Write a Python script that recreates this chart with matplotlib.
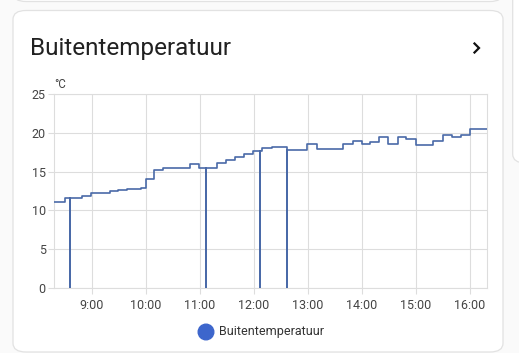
import matplotlib
matplotlib.use("Agg")
import matplotlib.pyplot as plt
import matplotlib.dates as mdates
from matplotlib.patches import FancyBboxPatch, Circle
from matplotlib.lines import Line2D
import pandas as pd

plt.rcParams['font.family'] = ['Roboto', 'DejaVu Sans']

title = "Buitentemperatuur"
series_name = "Buitentemperatuur"
unit = "°C"

times = ["08:18:00", "08:30:00", "08:36:00", "08:36:05", "08:49:00", "08:59:00",
         "09:20:00", "09:29:00", "09:39:00", "09:49:00", "09:55:00", "10:00:00",
         "10:09:00", "10:19:00", "10:49:00", "10:59:00", "11:07:00", "11:07:05",
         "11:19:00", "11:29:00", "11:39:00", "11:49:00", "11:59:00", "12:07:00",
         "12:07:05", "12:09:00", "12:20:00", "12:37:00", "12:37:05", "12:59:00",
         "13:10:00", "13:39:00", "13:50:00", "14:00:00", "14:09:00", "14:19:00",
         "14:29:00", "14:40:00", "14:49:00", "15:00:00", "15:19:00", "15:30:00",
         "15:40:00", "15:50:00", "16:00:00", "16:19:00"]
temps = [11.1, 11.6, 0.0, 11.6, 11.9, 12.3,
         12.5, 12.6, 12.7, 12.8, 12.9, 14.0,
         15.2, 15.5, 16.0, 15.5, 0.0, 15.5,
         16.1, 16.5, 16.9, 17.3, 17.7, 0.0,
         17.7, 18.0, 18.2, 0.0, 17.8, 18.5,
         17.9, 18.6, 19.0, 18.5, 18.85, 19.4,
         18.6, 19.4, 19.2, 18.4, 19.0, 19.7,
         19.4, 19.7, 20.5, 20.5]
y_ticks = [0, 5, 10, 15, 20, 25]
x_ticks = ["09:00", "10:00", "11:00", "12:00", "13:00", "14:00", "15:00", "16:00"]

day = "2024-01-01 "
t = pd.to_datetime([day + s for s in times])
xt = pd.to_datetime([day + s for s in x_ticks])

W, H = 519, 353
fig = plt.figure(figsize=(W / 100, H / 100), dpi=100)
fig.patch.set_facecolor("#fafafa")

def card(x0, y0, x1, y1):
    p = FancyBboxPatch((x0 / W, 1 - y1 / H), (x1 - x0) / W, (y1 - y0) / H,
                       boxstyle="round,pad=0,rounding_size=0.025",
                       transform=fig.transFigure, facecolor="white",
                       edgecolor="#e2e2e2", linewidth=0.9, zorder=-5)
    fig.patches.append(p)

card(13, 10.5, 503, 352)
card(13, -20, 503, 1.5)
card(512.7, -20, 550, 163)

# title
fig.text(30 / W, 1 - 55 / H, title, fontsize=17.5, color="#212121",
         ha="left", va="baseline")
# chevron
cx, cy = 477, 48
fig.add_artist(Line2D([(cx - 2.5) / W, (cx + 2) / W, (cx - 2.5) / W],
                      [1 - (cy - 4.5) / H, 1 - cy / H, 1 - (cy + 4.5) / H],
                      transform=fig.transFigure, color="#111111", lw=1.6,
                      solid_joinstyle="miter"))

ax = fig.add_axes([54 / W, 1 - 288 / H, (487 - 54) / W, (288 - 94) / H])
ax.set_facecolor("white")
ax.step(t, temps, where="post", color="#4a6aa8", lw=1.2, zorder=3)

ax.set_ylim(0, 25)
ax.set_yticks(y_ticks)
ax.set_xlim(pd.Timestamp(day + "08:18:00"), pd.Timestamp(day + "16:19:00"))
ax.set_xticks(xt)
ax.xaxis.set_major_formatter(mdates.DateFormatter("%-H:%M"))
ax.grid(True, color="#dddddd", lw=0.8, zorder=0)
for s in ax.spines.values():
    s.set_color("#dddddd")
    s.set_linewidth(0.8)
ax.tick_params(axis="both", colors="#dddddd", labelcolor="#444444",
               labelsize=9, length=4, width=0.8)
ax.tick_params(axis="x", pad=4)
ax.tick_params(axis="y", pad=2)

fig.text(54.5 / W, 1 - 85 / H, unit, fontsize=8.3, color="#444444",
         ha="left", va="center")

# legend
leg_ax = fig.add_axes([0, 0, 1, 1], facecolor="none")
leg_ax.set_xlim(0, W)
leg_ax.set_ylim(H, 0)
leg_ax.axis("off")
leg_ax.add_patch(Circle((206, 332), 7.8, color="#3d66cc"))
leg_ax.text(219, 332, series_name, fontsize=9, color="#333333",
            ha="left", va="center")

fig.savefig("out.png", dpi=100, facecolor=fig.get_facecolor())
